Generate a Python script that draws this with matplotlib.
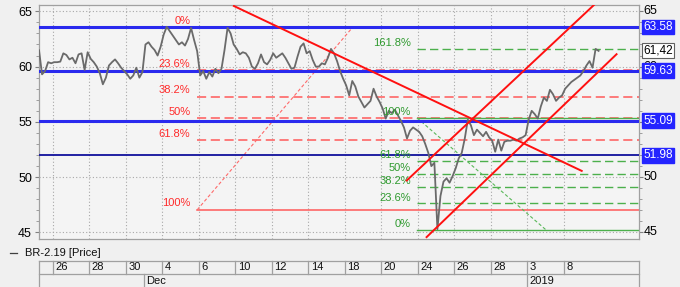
import matplotlib
matplotlib.use("Agg")
import matplotlib.pyplot as plt
import matplotlib.transforms as mtransforms
from matplotlib.lines import Line2D
from matplotlib.ticker import MultipleLocator

plt.rcParams['font.family'] = ['Liberation Sans', 'DejaVu Sans']

# ---------------- data ----------------
series_name = "BR-2.19 [Price]"
# trading-day index: 0 = 26 Nov 2018 ; each list = intraday prices of that day
day_index = list(range(-1, 30))
intraday_prices = [
    [61.3, 61.5, 59.3, 59.6, 60.4, 60.3],      # 23 Nov
    [60.4, 60.4, 60.45, 61.2, 61.05, 60.65],   # 26
    [60.8, 60.3, 61.1, 61.2, 59.7, 61.3],      # 27
    [60.7, 60.4, 60.0, 59.4, 58.4, 59.0],      # 28
    [60.1, 60.4, 60.65, 60.3, 59.9, 59.6],     # 29
    [59.3, 58.9, 59.2, 59.9, 59.0, 59.5],      # 30
    [62.0, 62.2, 61.8, 61.5, 61.0, 61.8],      # 3 Dec
    [62.9, 63.6, 63.2, 62.8, 62.4, 62.0],      # 4
    [62.2, 61.9, 62.5, 63.5, 62.4, 61.4],      # 5
    [59.2, 59.6, 58.9, 59.5, 59.1, 59.8],      # 6
    [59.4, 59.8, 61.5, 63.5, 63.0, 62.0],      # 7
    [61.6, 61.1, 61.3, 61.2, 60.8, 60.0],      # 10
    [59.8, 60.3, 61.1, 60.4, 60.2, 60.6],      # 11
    [61.2, 60.8, 61.0, 61.2, 60.8, 60.3],      # 12
    [59.8, 59.9, 60.9, 61.8, 62.1, 61.2],      # 13
    [61.4, 60.6, 60.0, 60.0, 60.3, 60.2],      # 14
    [60.8, 61.6, 61.2, 60.5, 59.6, 58.9],      # 17
    [58.3, 57.4, 58.7, 58.2, 57.3, 56.8],      # 18
    [56.3, 56.6, 56.9, 58.0, 57.3, 56.8],      # 19
    [56.2, 55.3, 56.0, 55.8, 56.1, 55.6],      # 20
    [55.1, 54.5, 53.5, 54.2, 54.5, 54.3],      # 21
    [54.1, 53.7, 53.0, 52.2, 51.0, 51.3],      # 24
    [45.3, 48.3, 49.6, 49.9, 49.5, 50.1],      # 25
    [50.8, 51.7, 52.2, 53.5, 55.2, 54.7],      # 26
    [53.8, 54.3, 54.0, 53.7, 54.1, 53.6],      # 27
    [53.3, 52.3, 53.4, 52.4, 53.2, 53.3],      # 28
    [53.3, 53.4, 53.3, 53.5, 53.6, 53.8],      # 29
    [55.2, 56.0, 55.7, 55.3, 56.4, 57.2],      # 3 Jan
    [56.9, 57.9, 57.5, 56.9, 57.2, 57.4],      # 4
    [58.0, 58.3, 58.6, 58.8, 59.0, 59.2],      # 8
    [59.6, 60.1, 60.5, 59.9, 61.6, 61.42],     # 9
]
last_price = 61.42

tick_days = [0, 2, 4, 6, 8, 10, 12, 14, 16, 18, 20, 22, 24, 26, 28]
tick_labels = ["26", "28", "30", "4", "6", "10", "12", "14", "18", "20", "24", "26", "28", "3", "8"]
month_days = [5, 26]
month_labels = ["Dec", "2019"]

y_ticks = [45, 50, 55, 60, 65]
right_y_labels = [45, 50, 60, 65]   # 55 is fully hidden behind the 55.09 box

blue_levels = [63.58, 59.63, 55.09]
dark_blue_level = 51.98

# red Fibonacci retracement anchors (day, price)
fib_red_low = (7.92, 47.05)
fib_red_high = (16.45, 63.58)
fib_red_pcts = [0, 23.6, 38.2, 50, 61.8, 100]
fib_red_solid = [0, 100]

# green Fibonacci extension
fib_green_top = (19.97, 55.36)
fib_green_bottom = (27.03, 45.24)
fib_green_pcts = [0, 23.6, 38.2, 50, 61.8, 100, 161.8]
fib_green_solid = [0, 100]

# red trend lines (day, price) pairs
trend_lines = [
    ((9.93, 65.48), (28.99, 50.57)),
    ((19.40, 49.70), (29.66, 65.57)),
    ((20.49, 44.58), (30.90, 61.12)),
]

# ---------------- figure ----------------
W, H = 680, 287
fig = plt.figure(figsize=(W / 100, H / 100), dpi=100, facecolor='#f0f0f0')
ax = fig.add_axes([39 / W, 1 - 239 / H, 600 / W, 234 / H])
ax.set_facecolor('#f4f4f4')
ax.set_xlim(-0.75, 32.13)
ax.set_ylim(44.41, 65.57)

for s in ax.spines.values():
    s.set_color('#a0a0a0')
    s.set_linewidth(0.9)

ax.set_xticks(tick_days)
ax.set_xticklabels([])
ax.tick_params(axis='x', length=0)
ax.set_yticks(y_ticks)
ax.yaxis.set_minor_locator(MultipleLocator(1))
ax.tick_params(axis='y', which='major', direction='out', length=3, color='#808080',
               labelsize=9, pad=2, left=True, right=True, labelleft=True, labelright=False)
ax.tick_params(axis='y', which='minor', direction='out', length=2, color='#909090',
               left=True, right=True)
ax.grid(True, which='major', color='#a8a8a8', linestyle=(0, (1, 2)), linewidth=0.8)
ax.set_axisbelow(True)

ytrans = mtransforms.blended_transform_factory(ax.transAxes, ax.transData)
for v in right_y_labels:
    ax.annotate(f"{v}", xy=(1, v), xycoords=ytrans, xytext=(3.2, 0), textcoords='offset points',
                ha='left', va='center', fontsize=9, color='black', zorder=5, annotation_clip=False)

# price
t_vals, p_vals = [], []
for d, vals in zip(day_index, intraday_prices):
    n = len(vals)
    for i, v in enumerate(vals):
        t_vals.append(d + (i + 0.5) / n)
        p_vals.append(v)
ax.plot(t_vals, p_vals, color='#6a6a6a', lw=1.3, zorder=3)

xmax = ax.get_xlim()[1]

# red fib
lo, hi = fib_red_low[1], fib_red_high[1]
for p in fib_red_pcts:
    lvl = hi - (hi - lo) * p / 100
    ls = '-' if p in fib_red_solid else (0, (6, 3))
    ax.plot([fib_red_low[0], xmax], [lvl, lvl], color='#ff5a5a', lw=1.1, ls=ls, zorder=2)
    ax.annotate(f"{p:g}%", xy=(fib_red_low[0], lvl), xytext=(-5, 2.5), textcoords='offset points',
                ha='right', va='baseline', color='#ff2a2a', fontsize=8)
ax.plot([fib_red_low[0], fib_red_high[0]], [fib_red_low[1], fib_red_high[1]],
        color='#ff6a6a', lw=0.8, ls=(0, (3, 2)), zorder=2)

# green fib
g0, g1 = fib_green_bottom[1], fib_green_top[1]
for p in fib_green_pcts:
    lvl = g0 + (g1 - g0) * p / 100
    ls = '-' if p in fib_green_solid else (0, (6, 3))
    ax.plot([fib_green_top[0], xmax], [lvl, lvl], color='#4cb04c', lw=1.0, ls=ls, zorder=2)
    ax.annotate(f"{p:g}%", xy=(fib_green_top[0], lvl), xytext=(-4.5, 2), textcoords='offset points',
                ha='right', va='baseline', color='#2f9a2f', fontsize=8)
ax.plot([fib_green_top[0], fib_green_bottom[0]], [fib_green_top[1], fib_green_bottom[1]],
        color='#5ab85a', lw=0.8, ls=(0, (3, 2)), zorder=2)

# blue levels
for lvl in blue_levels:
    ax.axhline(lvl, color='#2a2aee', lw=2.2, zorder=2.6)
ax.axhline(dark_blue_level, color='#10109c', lw=1.3, zorder=2.6)

# red trend lines
for (a, b) in trend_lines:
    ax.plot([a[0], b[0]], [a[1], b[1]], color='#ff1010', lw=1.4, zorder=4)

# right-side value boxes
for lvl in blue_levels + [dark_blue_level]:
    ax.annotate(f"{lvl:.2f}", xy=(1, lvl), xycoords=ytrans, xytext=(3.2, 0), textcoords='offset points',
                ha='left', va='center', color='white', fontsize=8.5, zorder=10, annotation_clip=False,
                bbox=dict(boxstyle='square,pad=0.12', fc='#2424ff', ec='#2424ff'))
ax.annotate(f"{last_price:.2f}".replace('.', ','), xy=(1, last_price), xycoords=ytrans,
            xytext=(3.2, 0), textcoords='offset points', ha='left', va='center', color='black',
            fontsize=8.5, zorder=10, annotation_clip=False,
            bbox=dict(boxstyle='square,pad=0.12', fc='white', ec='#606060', lw=0.8))

# legend line
fig.add_artist(Line2D([10 / W, 17 / W], [1 - 253 / H] * 2, color='#404040', lw=0.9))
fig.text(25 / W, 1 - 253 / H, series_name, ha='left', va='center', fontsize=8, color='#101010')

# bottom date table
xf = mtransforms.blended_transform_factory(ax.transData, fig.transFigure)
af = mtransforms.blended_transform_factory(ax.transAxes, fig.transFigure)
row1_top, row2_top = 1 - 261 / H, 1 - 274 / H
lc = '#a0a0a0'
fig.add_artist(Line2D([0, 1], [row1_top] * 2, transform=af, color=lc, lw=0.9))
fig.add_artist(Line2D([0, 1], [row2_top] * 2, transform=af, color=lc, lw=0.9))
fig.add_artist(Line2D([0, 0], [0, row1_top], transform=af, color=lc, lw=0.9))
fig.add_artist(Line2D([1, 1], [0, row1_top], transform=af, color=lc, lw=0.9))
for d, lab in zip(tick_days, tick_labels):
    fig.add_artist(Line2D([d, d], [row2_top, row1_top], transform=xf, color=lc, lw=0.9))
    fig.text(d + 0.15, (row1_top + row2_top) / 2, lab, transform=xf, ha='left', va='center',
             fontsize=8, color='#101010')
for d, lab in zip(month_days, month_labels):
    fig.add_artist(Line2D([d, d], [0, row2_top], transform=xf, color=lc, lw=0.9))
    fig.text(d + 0.12, row2_top / 2, lab, transform=xf, ha='left', va='center',
             fontsize=8, color='#101010')

fig.savefig('out.png', dpi=100, facecolor=fig.get_facecolor())
